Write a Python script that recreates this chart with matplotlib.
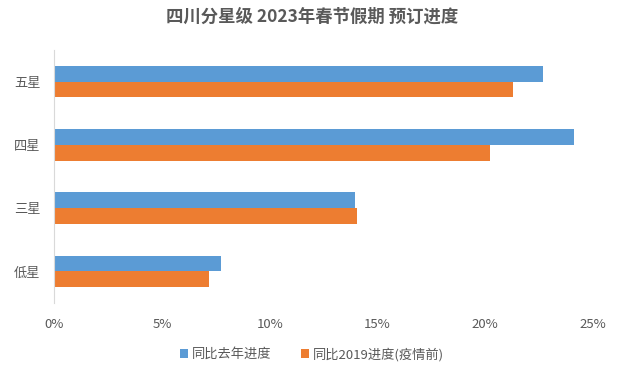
import matplotlib
matplotlib.use("Agg")
import matplotlib.pyplot as plt
import numpy as np

plt.rcParams['font.family'] = ['Noto Sans CJK SC', 'DejaVu Sans']

categories = ["低星", "三星", "四星", "五星"]
last_year = [7.74, 13.97, 24.12, 22.69]
pre_covid = [7.19, 14.04, 20.22, 21.30]
ticks = [0, 5, 10, 15, 20, 25]
tick_labels = ["0%", "5%", "10%", "15%", "20%", "25%"]

grey = "#595959"
fig = plt.figure(figsize=(6.24, 3.78), dpi=100)
ax = fig.add_axes([0.0873, 0.198, 0.8630, 0.670])

y = np.arange(len(categories))
h = 0.25
ax.barh(y + h / 2, last_year, height=h, color="#5B9BD5", label="同比去年进度")
ax.barh(y - h / 2, pre_covid, height=h, color="#ED7D31", label="同比2019进度(疫情前)")

ax.set_xlim(0, 25)
ax.set_ylim(-0.5, 3.5)
ax.set_xticks(ticks)
ax.set_xticklabels(tick_labels)
ax.set_yticks(y)
ax.set_yticklabels(categories)
ax.tick_params(axis="both", length=0, colors=grey, labelsize=9.5)
ax.tick_params(axis="x", pad=11)
ax.tick_params(axis="y", pad=10)

for s in ["top", "right", "bottom"]:
    ax.spines[s].set_visible(False)
ax.spines["left"].set_color("#D9D9D9")

fig.suptitle("四川分星级 2023年春节假期 预订进度", y=0.98, fontsize=12.5,
             fontweight="bold", color=grey)

fig.legend(loc="center", bbox_to_anchor=(0.5, 0.063), ncol=2, frameon=False,
           fontsize=9.5, labelcolor=grey, handlelength=0.6, handleheight=0.6,
           columnspacing=2.2, handletextpad=0.3)

fig.savefig("out.png", dpi=100)
